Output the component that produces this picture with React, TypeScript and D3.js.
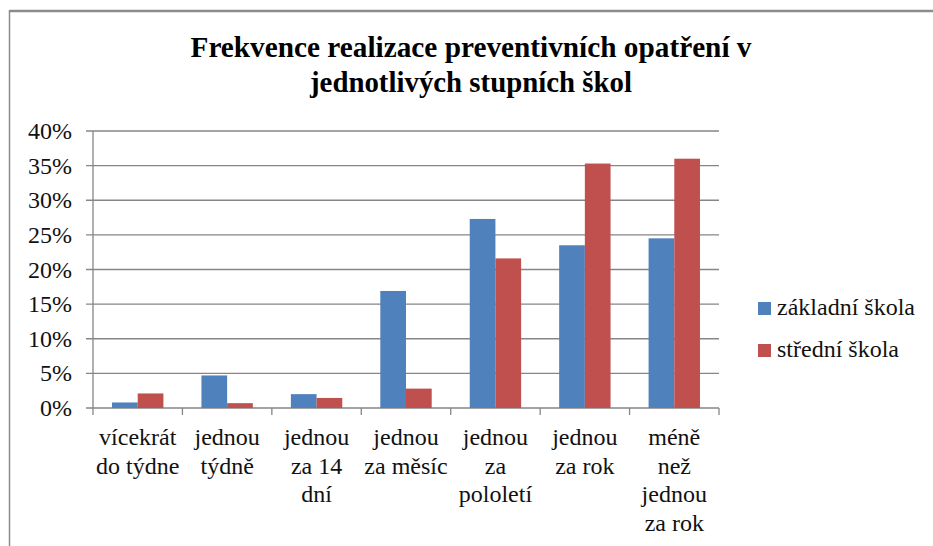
import React from "react";
import * as d3 from "d3";

const categories: string[][] = [
  ["vícekrát", "do týdne"],
  ["jednou", "týdně"],
  ["jednou", "za 14", "dní"],
  ["jednou", "za měsíc"],
  ["jednou", "za", "pololetí"],
  ["jednou", "za rok"],
  ["méně", "než", "jednou", "za rok"],
];
const zakladni: number[] = [0.008, 0.047, 0.02, 0.169, 0.273, 0.235, 0.245];
const stredni: number[] = [0.021, 0.007, 0.0145, 0.028, 0.216, 0.353, 0.36];
const seriesNames = ["základní škola", "střední škola"];
const seriesColors = ["#4F81BD", "#C0504D"];
const yTicks = [0, 0.05, 0.1, 0.15, 0.2, 0.25, 0.3, 0.35, 0.4];
const titleLines = ["Frekvence realizace preventivních opatření v", "jednotlivých stupních škol"];

export default function App() {
  const W = 933, H = 546;
  const x0 = 93, x1 = 719, yTop = 131, yBot = 408;
  const y = d3.scaleLinear().domain([0, 0.4]).range([yBot, yTop]);
  const keys = categories.map((_, i) => String(i));
  const x = d3.scaleBand<string>().domain(keys).range([x0, x1]).padding(0);
  const xs = d3.scaleBand<string>().domain(["0", "1"]).range([0, x.bandwidth()]).paddingInner(0).paddingOuter(0.74);
  const series = [zakladni, stredni];
  const fmt = d3.format(".0%");
  const font = "'Liberation Serif', 'Times New Roman', serif";
  const ts = { fontFamily: font };
  const grid = "#868686";

  return (
    <svg width={W} height={H} style={{ position: "absolute", left: 0, top: 0, background: "#fff" }}>
      <rect x={0} y={0} width={W} height={H} fill="#fff" />
      <line x1={9.5} x2={W} y1={11} y2={11} stroke="#8c8c8c" strokeWidth={2.5} />
      <line x1={9.5} x2={9.5} y1={10} y2={H} stroke="#8c8c8c" strokeWidth={1.5} />
      <text x={471} y={57} textAnchor="middle" fontSize={29} fontWeight="bold" fill="#000" style={ts} textLength={561} lengthAdjust="spacingAndGlyphs">{titleLines[0]}</text>
      <text x={471} y={92} textAnchor="middle" fontSize={29} fontWeight="bold" fill="#000" style={ts} textLength={322} lengthAdjust="spacingAndGlyphs">{titleLines[1]}</text>
      {yTicks.map((t) => (
        <g key={t}>
          <line x1={86} x2={x1} y1={y(t)} y2={y(t)} stroke={grid} strokeWidth={1.3} />
          <text x={72} y={y(t) + 8} textAnchor="end" fontSize={24} fill="#111" style={ts}>{fmt(t)}</text>
        </g>
      ))}
      <line x1={x0} x2={x0} y1={yTop} y2={yBot + 7} stroke={grid} strokeWidth={1.3} />
      {keys.map((k) => (
        <line key={"t" + k} x1={(x(k) as number) + x.bandwidth()} x2={(x(k) as number) + x.bandwidth()} y1={yBot} y2={yBot + 7} stroke={grid} strokeWidth={1.3} />
      ))}
      {series.map((vals, si) =>
        vals.map((v, i) => (
          <rect
            key={si + "-" + i}
            x={(x(String(i)) as number) + (xs(String(si)) as number)}
            y={y(v)}
            width={xs.bandwidth()}
            height={yBot - y(v)}
            fill={seriesColors[si]}
          />
        ))
      )}
      {categories.map((lines, i) => (
        <text key={"c" + i} x={(x(String(i)) as number) + x.bandwidth() / 2} textAnchor="middle" fontSize={24} fill="#111" style={ts}>
          {lines.map((l, j) => (
            <tspan key={j} x={(x(String(i)) as number) + x.bandwidth() / 2} y={445 + j * 28.5}>{l}</tspan>
          ))}
        </text>
      ))}
      {seriesNames.map((n, i) => (
        <g key={n}>
          <rect x={758} y={302 + i * 42} width={13} height={13} fill={seriesColors[i]} />
          <text x={777} y={315 + i * 42} fontSize={24} fill="#111" style={ts}>{n}</text>
        </g>
      ))}
    </svg>
  );
}
